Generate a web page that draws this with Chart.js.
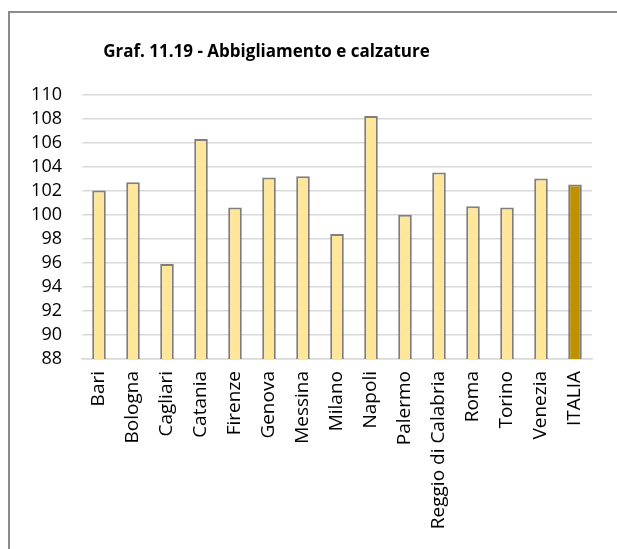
<!DOCTYPE html>
<html>
<head>
<meta charset="utf-8">
<script src="https://cdn.jsdelivr.net/npm/chart.js@4/dist/chart.umd.min.js"></script>
<style>
html,body{margin:0;padding:0;background:#fff;}
#wrap{width:617px;height:549px;position:relative;}
</style>
</head>
<body>
<div id="wrap"><canvas id="c" width="617" height="549"></canvas></div>
<script>
const categories = ["Bari","Bologna","Cagliari","Catania","Firenze","Genova","Messina","Milano","Napoli","Palermo","Reggio di Calabria","Roma","Torino","Venezia","ITALIA"];
const values = [102.0,102.7,95.9,106.3,100.6,103.1,103.2,98.4,108.2,100.0,103.5,100.7,100.6,103.0,102.5];
const yTicks = [88,90,92,94,96,98,100,102,104,106,108,110];
const titleText = "Graf. 11.19 - Abbigliamento e calzature";

const fills = categories.map(c => c === "ITALIA" ? "#BF9000" : "#FFE699");

const frame = {
  id: 'frame',
  beforeDraw(chart) {
    const ctx = chart.ctx;
    ctx.save();
    ctx.fillStyle = '#fff';
    ctx.fillRect(0, 0, chart.width, chart.height);
    ctx.strokeStyle = '#8c8c8c';
    ctx.lineWidth = 2;
    ctx.strokeRect(9, 12, 700, 700);
    ctx.restore();
  },
  afterLayout(chart) {
    const t = chart.titleBlock;
    if (t) { t.left = 0; t.right = 533; }
  }
};

new Chart(document.getElementById('c'), {
  type: 'bar',
  data: {
    labels: categories,
    datasets: [{
      data: values,
      backgroundColor: fills,
      borderColor: '#7f7f7f',
      borderWidth: 2,
      borderSkipped: 'bottom',
      categoryPercentage: 1,
      barPercentage: 0.4
    }]
  },
  options: {
    responsive: false,
    animation: false,
    layout: { padding: { left: 0, right: 25, top: 0, bottom: 0 } },
    plugins: {
      legend: { display: false },
      tooltip: { enabled: false },
      title: {
        display: true,
        text: titleText,
        color: '#000',
        font: { family: 'Open Sans', size: 17, weight: 'bold' },
        padding: { top: 42, bottom: 32 }
      }
    },
    scales: {
      x: {
        grid: { display: false, drawTicks: false },
        border: { display: true, color: '#d9d9d9', width: 1.5 },
        ticks: {
          color: '#000',
          font: { family: 'Open Sans', size: 19 },
          minRotation: 90, maxRotation: 90,
          padding: 12,
          autoSkip: false
        },
        afterFit(scale) { scale.height = 190; }
      },
      y: {
        min: 88, max: 110,
        afterBuildTicks(scale) { scale.ticks = yTicks.map(v => ({ value: v })); },
        grid: { color: '#d9d9d9', lineWidth: 1.5, drawTicks: false },
        border: { display: false },
        ticks: {
          color: '#000',
          font: { family: 'Open Sans', size: 18 },
          padding: 20,
          autoSkip: false
        },
        afterFit(scale) { scale.width = 82; }
      }
    }
  },
  plugins: [frame]
});
</script>
</body>
</html>
